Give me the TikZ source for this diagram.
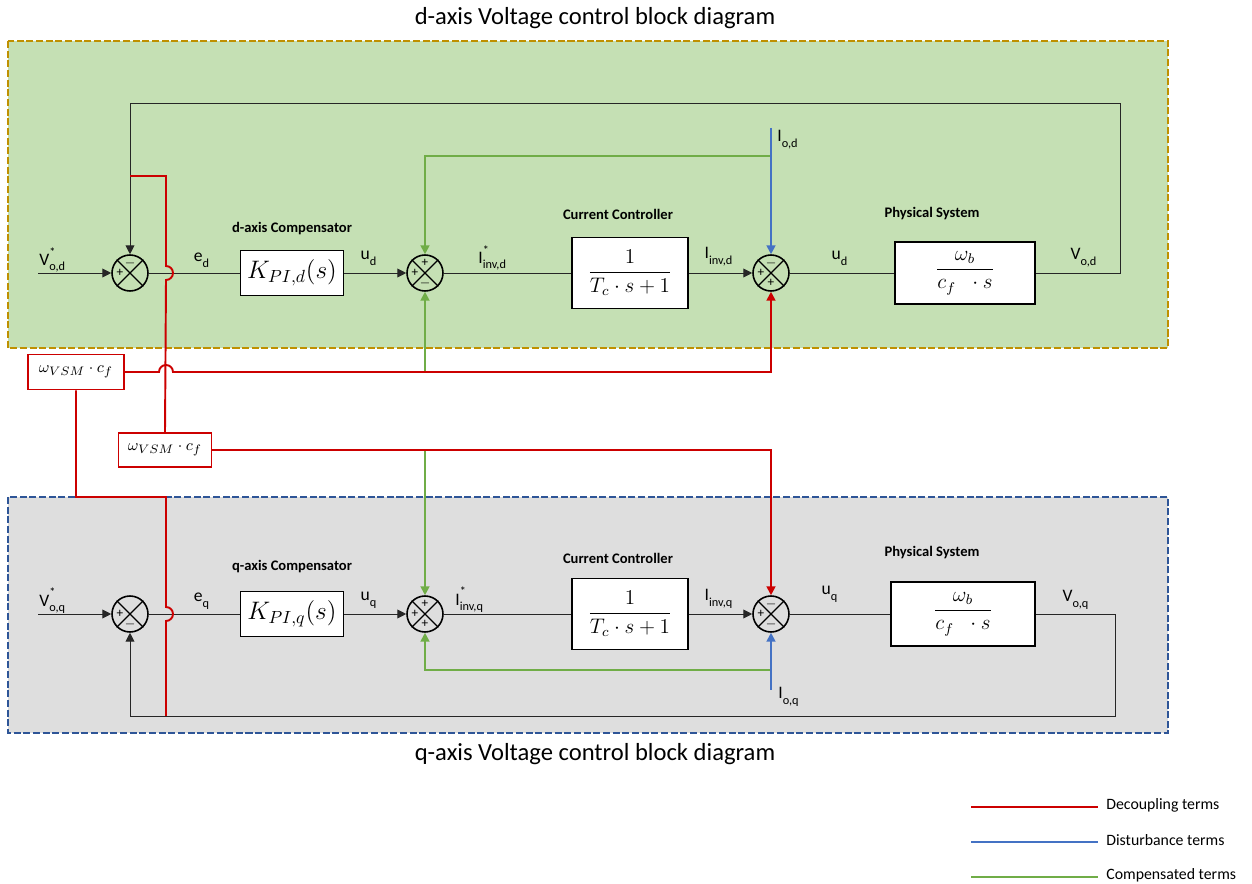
\documentclass[tikz,border=0pt]{standalone}
\usepackage{amsmath}
\usepackage{fontspec}
\setmainfont{Carlito}
\usetikzlibrary{arrows.meta}
\definecolor{gfill}{HTML}{C5E0B4}
\definecolor{gold}{HTML}{BF9000}
\definecolor{qfill}{HTML}{DEDEDE}
\definecolor{qborder}{HTML}{2E5597}
\definecolor{redl}{HTML}{CC0000}
\definecolor{bluel}{HTML}{4472C4}
\definecolor{greenl}{HTML}{70AD47}
\newcommand{\junction}[4]{%
  \draw[line width=0.7pt] (#1.north east) -- (#1.south west) (#1.north west) -- (#1.south east);
  \node[sgn] at ([yshift=0.2cm]#1.center) {#2};
  \node[sgn] at ([xshift=-0.2cm]#1.center) {#3};
  \node[sgn] at ([yshift=-0.2cm]#1.center) {#4};}
\newcommand{\sig}[3]{$\text{#1}^{\text{\raisebox{1.2pt}{#2}}}_{\text{\raisebox{-0.8pt}{#3}}}$}
\begin{document}
\begin{tikzpicture}[x=0.02cm,y=-0.02cm,
  sumj/.style={circle,draw,line width=0.9pt,minimum size=0.72cm,inner sep=0pt},
  blk/.style={draw,line width=1.1pt,fill=white,inner sep=0pt},
  redblk/.style={draw=redl,line width=1.1pt,fill=white,inner sep=0pt},
  sgn/.style={font=\fontsize{7.5}{8}\selectfont,inner sep=0pt},
  arr/.style={-{Triangle[length=5pt,width=5pt]}},
  sig/.style={line width=0.55pt,draw=black!85},
  rl/.style={draw=redl,line width=1.1pt},
  bl/.style={draw=bluel,line width=1.1pt},
  gl/.style={draw=greenl,line width=1.1pt},
  lab/.style={font=\fontsize{10}{11}\selectfont,inner sep=0pt},
  hdr/.style={font=\fontsize{8.3}{9}\selectfont\bfseries,inner sep=0pt},
  ttl/.style={font=\fontsize{14}{16}\selectfont,inner sep=0pt},
  leg/.style={font=\fontsize{9}{10}\selectfont,inner sep=0pt,anchor=west}]
\useasboundingbox (0,0) rectangle (1252,884);
% backgrounds
\fill[gfill] (8,41) rectangle (1168,348);
\draw[gold,line width=1.3pt,dash pattern=on 4pt off 1.5pt] (8,41) rectangle (1168,348);
\fill[qfill] (8,497) rectangle (1168,733);
\draw[qborder,line width=1.3pt,dash pattern=on 4pt off 1.5pt] (8,497) rectangle (1168,733);
\node[ttl] (td) at (595,18) {d-axis Voltage control block diagram};
\node[ttl] (tq) at (595,754) {q-axis Voltage control block diagram};
% d-axis nodes
\node[sumj] (s1d) at (130,273) {};
\node[sumj] (s2d) at (425,273) {};
\node[sumj] (s3d) at (771,273) {};
\node[blk,minimum width=2.06cm,minimum height=0.9cm] (kd) at (292,273) {\fontsize{14}{16}\selectfont$K_{PI,d}(s)$};
\node[blk,minimum width=2.32cm,minimum height=1.42cm] (cd) at (630,273) {\fontsize{12}{14}\selectfont$\dfrac{1}{T_c\cdot s+1}$};
\node[blk,minimum width=2.8cm,minimum height=1.24cm] (pd) at (965,273) {\fontsize{12}{14}\selectfont$\dfrac{\omega_b}{c_f\;\;\cdot s}$};
% q-axis nodes
\node[sumj] (s1q) at (130,614) {};
\node[sumj] (s2q) at (425,614) {};
\node[sumj] (s3q) at (771,614) {};
\node[blk,minimum width=2.06cm,minimum height=0.9cm] (kq) at (292,614) {\fontsize{14}{16}\selectfont$K_{PI,q}(s)$};
\node[blk,minimum width=2.32cm,minimum height=1.42cm] (cq) at (630,614) {\fontsize{12}{14}\selectfont$\dfrac{1}{T_c\cdot s+1}$};
\node[blk,minimum width=2.88cm,minimum height=1.28cm] (pq) at (963,614) {\fontsize{12}{14}\selectfont$\dfrac{\omega_b}{c_f\;\;\cdot s}$};
% decoupling blocks
\node[redblk,minimum width=1.92cm,minimum height=0.7cm] (w1) at (76,372) {\fontsize{9.5}{11}\selectfont$\omega_{VSM}\cdot c_f$};
\node[redblk,minimum width=1.86cm,minimum height=0.68cm] (w2) at (165,450) {\fontsize{9.5}{11}\selectfont$\omega_{VSM}\cdot c_f$};
% coordinates
\coordinate (ind) at (38,273);
\coordinate (inq) at (38,614);
\coordinate (iod) at (771,128);
\coordinate (ioq) at (771,690);
\coordinate (fbd) at (130,176);
\coordinate (fbq) at (166,716);
\coordinate (g0) at (771,156);
\coordinate (g1) at (425,372);
\coordinate (g2) at (425,450);
\coordinate (g3) at (771,670);
% d-axis signals
\draw[sig,arr] (ind) -- (s1d);
\draw[sig] (s1d) -- (kd);
\draw[sig,arr] (kd) -- (s2d);
\draw[sig] (s2d) -- (cd);
\draw[sig,arr] (cd) -- (s3d);
\draw[sig] (s3d) -- (pd);
\draw[sig,arr] (pd.east) -- (1120,273) -- (1120,103) -- (130,103) -- (s1d.north);
\draw[gl,arr] (g0) -- (425,156) -- (s2d.north);
\draw[gl,arr] (g1) -- (s2d.south);
\draw[bl,arr] (iod) -- (s3d.north);
% q-axis signals
\draw[sig,arr] (inq) -- (s1q);
\draw[sig] (s1q) -- (kq);
\draw[sig,arr] (kq) -- (s2q);
\draw[sig] (s2q) -- (cq);
\draw[sig,arr] (cq) -- (s3q);
\draw[sig] (s3q) -- (pq);
\draw[sig,arr] (pq.east) -- (1115,614) -- (1115,716) -- (130,716) -- (s1q.south);
\draw[gl,arr] (g3) -- (425,670) -- (s2q.south);
\draw[gl,arr] (g2) -- (s2q.north);
\draw[bl,arr] (ioq) -- (s3q.south);
% decoupling paths
\draw[rl] (fbd) -- (166,176) -- (166,266) arc[start angle=90,end angle=-90,radius=0.14cm] -- (w2.north);
\draw[rl,arr] (w1.east) -- (159,372) arc[start angle=180,end angle=0,radius=0.14cm] -- (771,372) -- (s3d.south);
\draw[rl] (w1.south) -- (76,497) -- (166,497) -- (166,607) arc[start angle=90,end angle=-90,radius=0.14cm] -- (fbq);
\draw[rl,arr] (w2.east) -- (771,450) -- (s3q.north);
% junction crosses and signs
\junction{s1d}{$-$}{+}{}
\junction{s2d}{+}{+}{$-$}
\junction{s3d}{$-$}{+}{+}
\junction{s1q}{}{+}{$-$}
\junction{s2q}{+}{+}{+}
\junction{s3q}{$-$}{+}{$-$}
% headers
\node[hdr] (h1) at (292,229) {d-axis Compensator};
\node[hdr] (h2) at (618,214) {Current Controller};
\node[hdr] (h3) at (932,214) {Physical System};
\node[hdr] (h4) at (292,567) {q-axis Compensator};
\node[hdr] (h5) at (618,558) {Current Controller};
\node[hdr] (h6) at (932,553) {Physical System};
% signal labels
\node[lab,anchor=west] (l1) at (39,260) {\sig{V}{*}{o,d}};
\node[lab] (l2) at (202,260) {\sig{e}{}{d}};
\node[lab] (l3) at (369,258) {\sig{u}{}{d}};
\node[lab,anchor=west] (l4) at (478,258) {\sig{I}{*}{inv,d}};
\node[lab] (l5) at (719,257) {\sig{I}{}{inv,d}};
\node[lab] (l6) at (840,258) {\sig{u}{}{d}};
\node[lab] (l7) at (1084,258) {\sig{V}{}{o,d}};
\node[lab] (l8) at (788,140) {\sig{I}{}{o,d}};
\node[lab,anchor=west] (m1) at (39,601) {\sig{V}{*}{o,q}};
\node[lab] (m2) at (202,601) {\sig{e}{}{q}};
\node[lab] (m3) at (369,600) {\sig{u}{}{q}};
\node[lab,anchor=west] (m4) at (455,600) {\sig{I}{*}{inv,q}};
\node[lab] (m5) at (719,599) {\sig{I}{}{inv,q}};
\node[lab] (m6) at (830,594) {\sig{u}{}{q}};
\node[lab] (m7) at (1076,600) {\sig{V}{}{o,q}};
\node[lab] (m8) at (789,697) {\sig{I}{}{o,q}};
% legend
\coordinate (a1) at (971,807); \coordinate (a2) at (1098,807);
\coordinate (b1) at (971,842); \coordinate (b2) at (1098,842);
\coordinate (c1) at (971,877); \coordinate (c2) at (1098,877);
\draw[rl,line width=0.9pt] (a1) -- (a2);
\draw[bl,line width=0.9pt] (b1) -- (b2);
\draw[gl,line width=0.9pt] (c1) -- (c2);
\node[leg] (e1) at (1106,805) {Decoupling terms};
\node[leg] (e2) at (1106,840) {Disturbance terms};
\node[leg] (e3) at (1106,875) {Compensated terms};
\end{tikzpicture}
\end{document}
